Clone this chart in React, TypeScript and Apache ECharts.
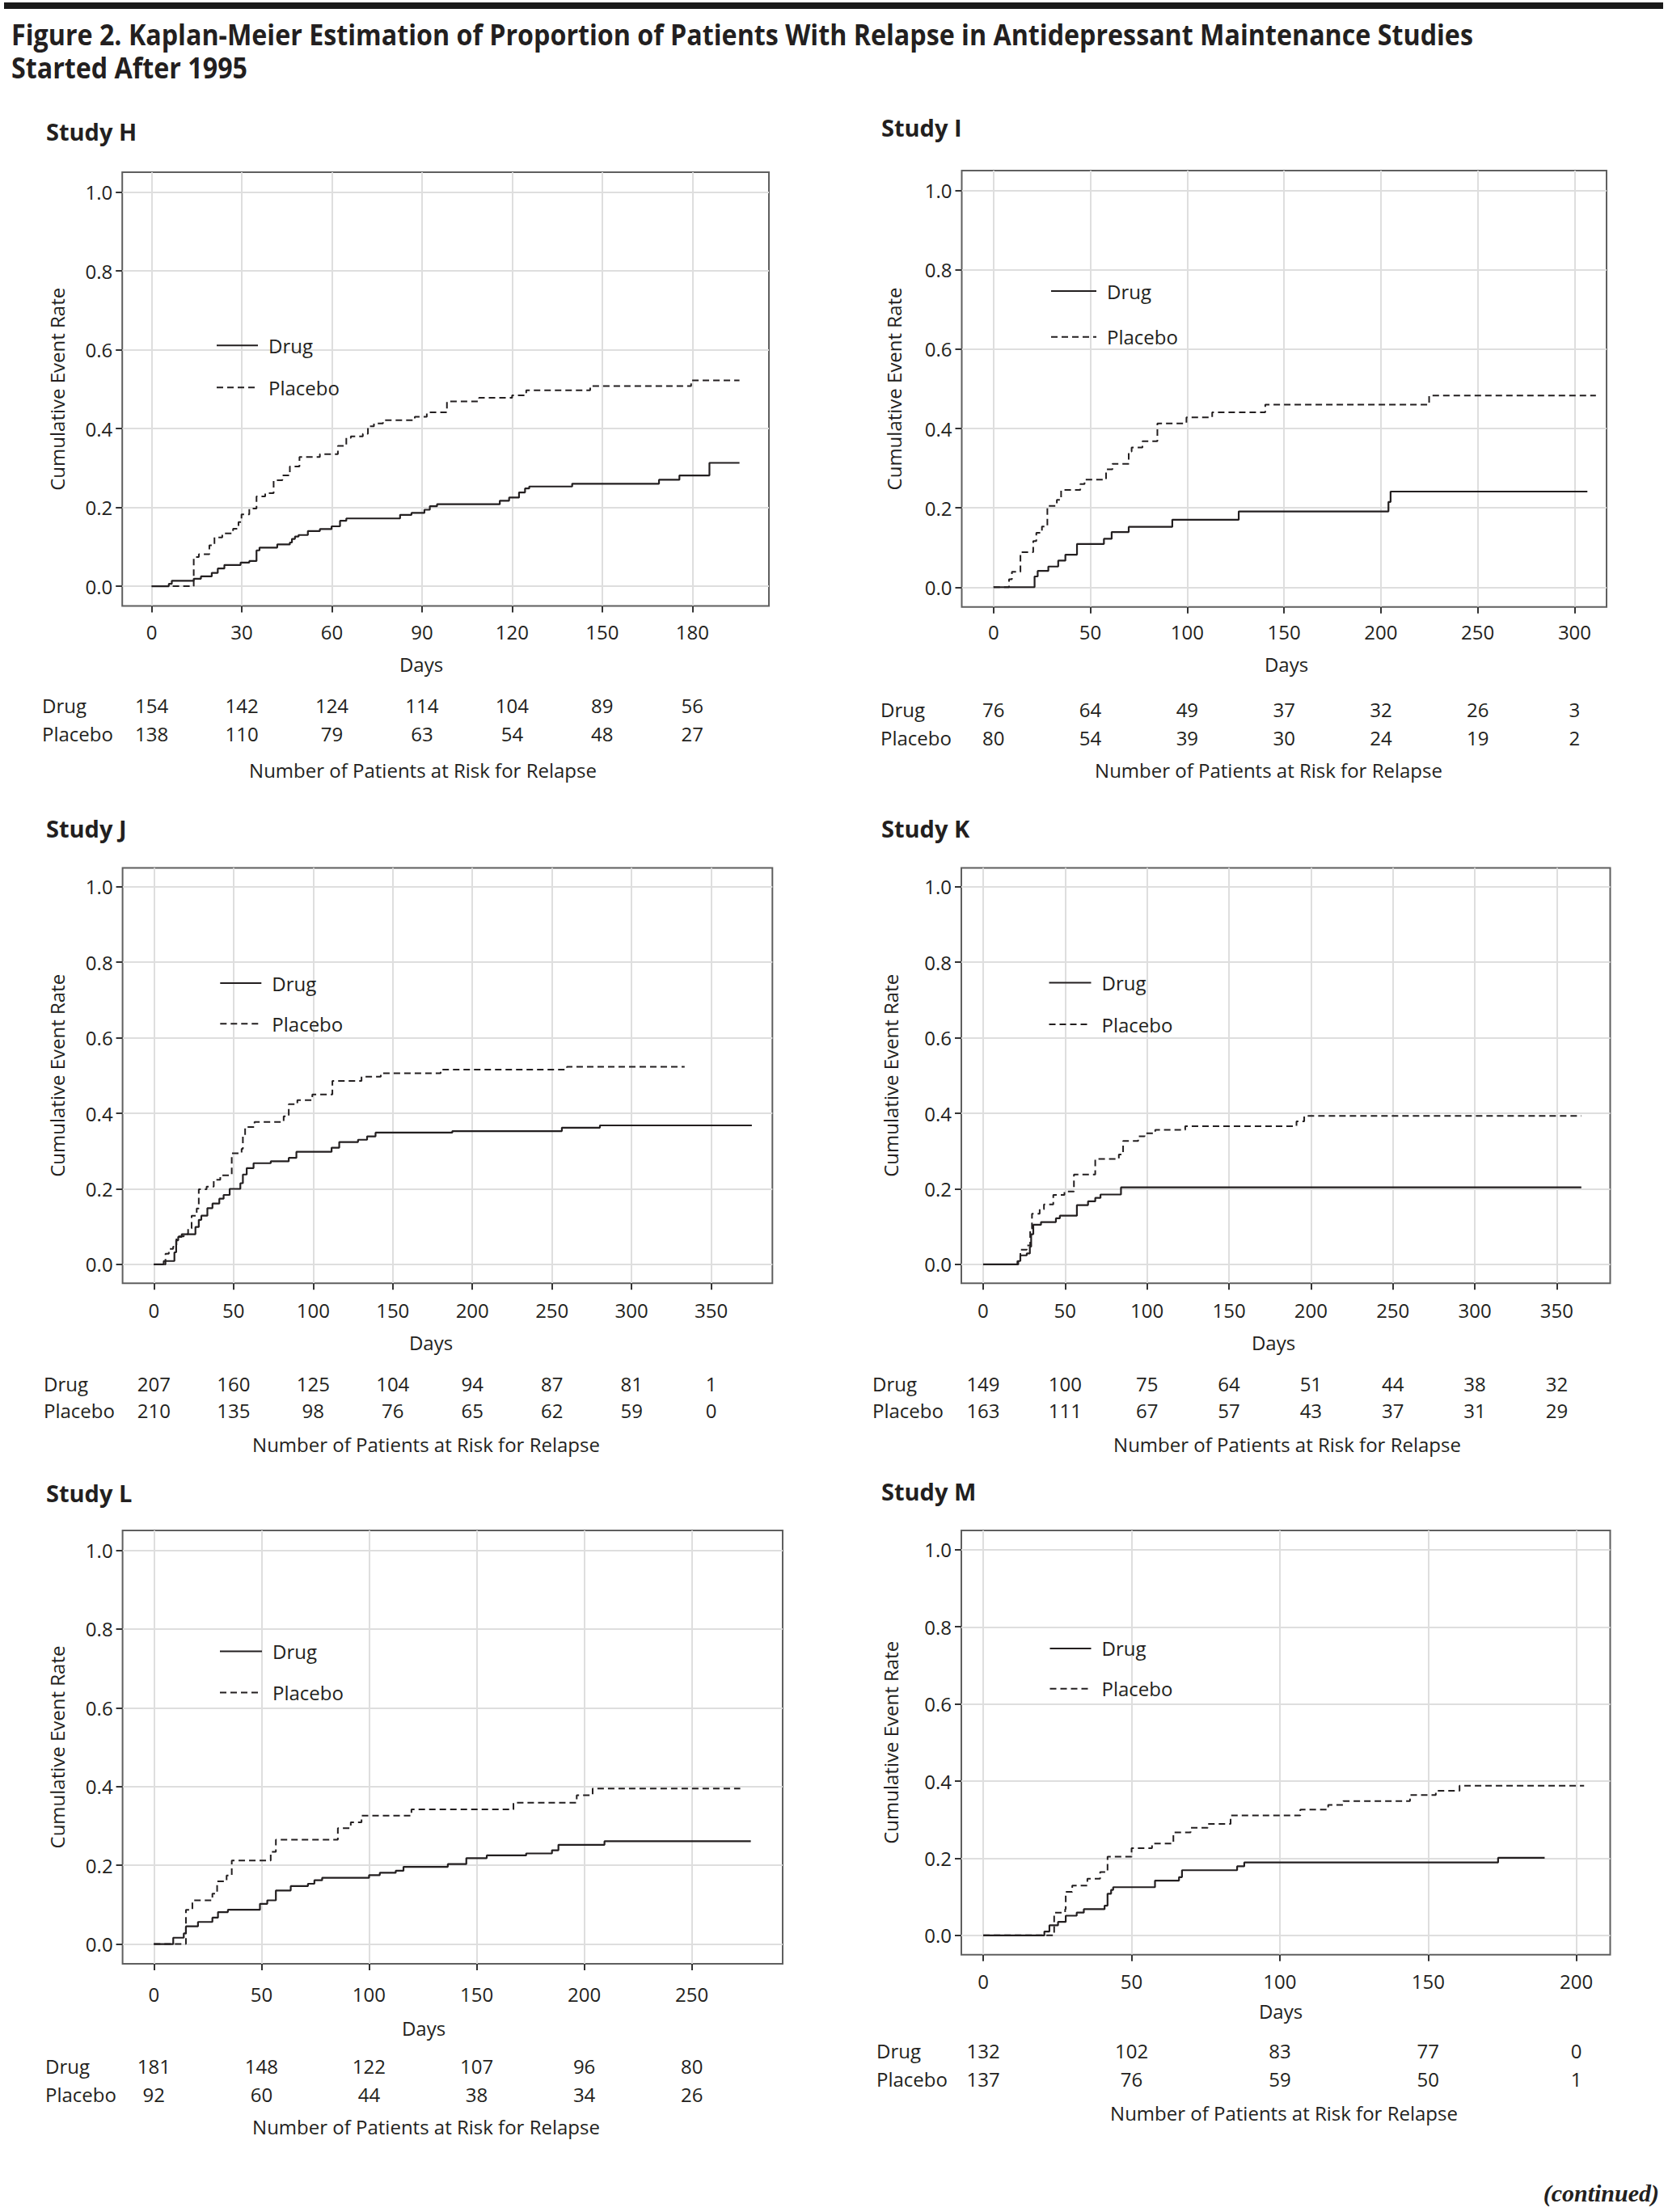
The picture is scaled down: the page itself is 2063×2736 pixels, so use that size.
import React, { useEffect, useRef } from "react";
import * as echarts from "echarts";

const INK = "#231f20";
const FRAME = "#5f5f5f";
const GRIDC = "#dedede";
const FONT = "'Open Sans', 'Noto Sans', sans-serif";

const titleLine1 =
  "Figure 2. Kaplan-Meier Estimation of Proportion of Patients With Relapse in Antidepressant Maintenance Studies";
const titleLine2 = "Started After 1995";
const yAxisTitle = "Cumulative Event Rate";
const xAxisTitle = "Days";
const riskCaption = "Number of Patients at Risk for Relapse";
const armNames = ["Drug", "Placebo"];
const rateTicks = [0, 0.2, 0.4, 0.6, 0.8, 1.0];

// ---------- Study H ----------
const studyHDays = [0, 30, 60, 90, 120, 150, 180];
const studyHDrugAtRisk = [154, 142, 124, 114, 104, 89, 56];
const studyHPlaceboAtRisk = [138, 110, 79, 63, 54, 48, 27];
const studyHDrug = [
  [0, 0], [5.7, 0.006], [6.7, 0.014], [14, 0.019], [16.4, 0.025], [20, 0.034], [22, 0.045],
  [24.2, 0.054], [29.6, 0.06], [32.5, 0.064], [34.9, 0.091], [35.9, 0.098], [41.8, 0.106],
  [46, 0.111], [46.7, 0.12], [47.7, 0.126], [48.9, 0.13], [52, 0.14], [56, 0.145], [59.9, 0.152],
  [62.7, 0.166], [64.8, 0.172], [82.7, 0.181], [86.5, 0.186], [90.8, 0.194], [92.6, 0.203],
  [95, 0.208], [115.9, 0.217], [119, 0.225], [122.3, 0.238], [124.3, 0.248], [125.7, 0.253],
  [140, 0.26], [168.9, 0.27], [175.7, 0.281], [185.7, 0.313], [195.7, 0.313],
];
const studyHPlacebo = [
  [0, 0], [14, 0.074], [15.7, 0.081], [19.2, 0.104], [20.9, 0.124], [23.5, 0.134], [27.1, 0.146],
  [28.9, 0.163], [29.9, 0.182], [32.5, 0.197], [34.9, 0.228], [37.8, 0.236], [40.6, 0.269],
  [43.5, 0.281], [46, 0.304], [49.2, 0.328], [56, 0.335], [62, 0.356], [64.8, 0.376], [66.3, 0.38],
  [70.3, 0.387], [72, 0.406], [74, 0.413], [77, 0.421], [87.6, 0.43], [91.6, 0.441], [98.3, 0.469],
  [109, 0.478], [120, 0.484], [124.7, 0.497], [146, 0.508], [179.6, 0.522], [195.7, 0.522],
];

// ---------- Study I ----------
const studyIDays = [0, 50, 100, 150, 200, 250, 300];
const studyIDrugAtRisk = [76, 64, 49, 37, 32, 26, 3];
const studyIPlaceboAtRisk = [80, 54, 39, 30, 24, 19, 2];
const studyIDrug = [
  [0, 0], [21.2, 0.027], [22.8, 0.041], [28.3, 0.052], [33.4, 0.067], [37.1, 0.082], [43.1, 0.109],
  [57, 0.122], [61, 0.139], [69.8, 0.152], [92.3, 0.17], [126.6, 0.191], [203.9, 0.215],
  [205, 0.241], [306.6, 0.241],
];
const studyIPlacebo = [
  [0, 0], [8, 0.02], [9.5, 0.039], [13.9, 0.088], [20.5, 0.116], [22.1, 0.137], [25, 0.153],
  [27.8, 0.205], [32.7, 0.22], [34.9, 0.245], [44.8, 0.26], [47, 0.271], [58.1, 0.297],
  [61.4, 0.311], [69.8, 0.342], [71.3, 0.352], [76.9, 0.368], [84.6, 0.413], [99.6, 0.428],
  [112.9, 0.441], [140.3, 0.46], [224.9, 0.483], [311, 0.483],
];

// ---------- Study J ----------
const studyJDays = [0, 50, 100, 150, 200, 250, 300, 350];
const studyJDrugAtRisk = [207, 160, 125, 104, 94, 87, 81, 1];
const studyJPlaceboAtRisk = [210, 135, 98, 76, 65, 62, 59, 0];
const studyJDrug = [
  [0, 0], [6.2, 0.009], [12.9, 0.032], [14, 0.064], [15.3, 0.073], [17.5, 0.08], [26.1, 0.099],
  [28.2, 0.118], [29.8, 0.129], [33.6, 0.149], [36.8, 0.161], [41.1, 0.174], [43.8, 0.184],
  [47.6, 0.2], [54.3, 0.215], [55.9, 0.238], [58.3, 0.255], [62.6, 0.268], [73.4, 0.273],
  [84.7, 0.282], [89.5, 0.298], [111.6, 0.309], [116.4, 0.324], [128.2, 0.33], [133.9, 0.339],
  [139.2, 0.349], [187.4, 0.353], [256.2, 0.362], [280.1, 0.368], [375.5, 0.368],
];
const studyJPlacebo = [
  [0, 0], [7.3, 0.028], [9.4, 0.041], [12.1, 0.047], [14.2, 0.074], [18.8, 0.08], [21.5, 0.095],
  [23.7, 0.129], [26.9, 0.148], [28.2, 0.199], [33.1, 0.206], [37.6, 0.224], [41.7, 0.236],
  [48.9, 0.294], [55.1, 0.306], [55.9, 0.339], [57.3, 0.364], [63.2, 0.377], [81.5, 0.392],
  [84.7, 0.424], [90.1, 0.435], [99.5, 0.45], [112.1, 0.486], [130.4, 0.497], [142.5, 0.506],
  [180.1, 0.516], [259.4, 0.523], [333.3, 0.523],
];

// ---------- Study K ----------
const studyKDays = [0, 50, 100, 150, 200, 250, 300, 350];
const studyKDrugAtRisk = [149, 100, 75, 64, 51, 44, 38, 32];
const studyKPlaceboAtRisk = [163, 111, 67, 57, 43, 37, 31, 29];
const studyKDrug = [
  [0, 0], [21.4, 0.009], [22.7, 0.024], [26.6, 0.029], [28.5, 0.047], [29.3, 0.08], [30.6, 0.105],
  [35.3, 0.112], [44.4, 0.122], [46.8, 0.129], [57.2, 0.157], [64, 0.167], [68.4, 0.176],
  [71.6, 0.185], [84.1, 0.204], [365, 0.204],
];
const studyKPlacebo = [
  [0, 0], [20.9, 0.009], [22.7, 0.039], [26.6, 0.05], [28.7, 0.095], [29.8, 0.134], [34.5, 0.146],
  [37.1, 0.159], [42.8, 0.184], [49.6, 0.193], [55.4, 0.238], [68.4, 0.279], [82.8, 0.291],
  [85.4, 0.327], [94.6, 0.339], [98.5, 0.347], [105, 0.356], [123.3, 0.366], [191.2, 0.379],
  [195.9, 0.393], [365, 0.393],
];

// ---------- Study L ----------
const studyLDays = [0, 50, 100, 150, 200, 250];
const studyLDrugAtRisk = [181, 148, 122, 107, 96, 80];
const studyLPlaceboAtRisk = [92, 60, 44, 38, 34, 26];
const studyLDrug = [
  [0, 0], [9, 0.016], [13.9, 0.027], [14.9, 0.045], [20.5, 0.056], [27.2, 0.067], [29.8, 0.081],
  [34.4, 0.087], [49.3, 0.102], [52.7, 0.111], [56.7, 0.136], [63.6, 0.147], [71.6, 0.153],
  [74.6, 0.162], [78.2, 0.168], [100, 0.175], [105, 0.181], [112.4, 0.186], [116, 0.196],
  [136.6, 0.203], [145.2, 0.218], [154.7, 0.225], [173, 0.23], [185, 0.238], [188, 0.252],
  [209.4, 0.261], [277.4, 0.261],
];
const studyLPlacebo = [
  [0, 0], [14.9, 0.087], [17.9, 0.111], [27.2, 0.128], [29.4, 0.159], [33.8, 0.174], [36.2, 0.212],
  [54.3, 0.234], [56.7, 0.265], [85.5, 0.294], [91.5, 0.309], [96.5, 0.326], [119.7, 0.342],
  [167.1, 0.359], [196.5, 0.378], [203.9, 0.395], [272.5, 0.395],
];

// ---------- Study M ----------
const studyMDays = [0, 50, 100, 150, 200];
const studyMDrugAtRisk = [132, 102, 83, 77, 0];
const studyMPlaceboAtRisk = [137, 76, 59, 50, 1];
const studyMDrug = [
  [0, 0], [20.6, 0.01], [22.3, 0.026], [25.2, 0.035], [27.8, 0.051], [31.5, 0.059], [33.9, 0.068],
  [40.9, 0.077], [41.9, 0.108], [43.1, 0.118], [43.8, 0.125], [57.9, 0.142], [66, 0.151],
  [67, 0.169], [85.6, 0.179], [88, 0.189], [173.6, 0.201], [189.3, 0.201],
];
const studyMPlacebo = [
  [0, 0], [23.9, 0.059], [27.6, 0.068], [27.8, 0.113], [30, 0.129], [35.1, 0.147], [39.4, 0.164],
  [41.9, 0.204], [50, 0.226], [56.9, 0.238], [64.1, 0.267], [69.9, 0.279], [75.7, 0.289],
  [83.4, 0.311], [106.9, 0.326], [116.3, 0.338], [121.4, 0.348], [143.9, 0.364], [152.6, 0.375],
  [160.6, 0.388], [202.6, 0.388],
];

const studies = [
  { label: "Study H", days: studyHDays, drug: studyHDrug, placebo: studyHPlacebo, drugRisk: studyHDrugAtRisk, placeboRisk: studyHPlaceboAtRisk },
  { label: "Study I", days: studyIDays, drug: studyIDrug, placebo: studyIPlacebo, drugRisk: studyIDrugAtRisk, placeboRisk: studyIPlaceboAtRisk },
  { label: "Study J", days: studyJDays, drug: studyJDrug, placebo: studyJPlacebo, drugRisk: studyJDrugAtRisk, placeboRisk: studyJPlaceboAtRisk },
  { label: "Study K", days: studyKDays, drug: studyKDrug, placebo: studyKPlacebo, drugRisk: studyKDrugAtRisk, placeboRisk: studyKPlaceboAtRisk },
  { label: "Study L", days: studyLDays, drug: studyLDrug, placebo: studyLPlacebo, drugRisk: studyLDrugAtRisk, placeboRisk: studyLPlaceboAtRisk },
  { label: "Study M", days: studyMDays, drug: studyMDrug, placebo: studyMPlacebo, drugRisk: studyMDrugAtRisk, placeboRisk: studyMPlaceboAtRisk },
];

// Layout (pixel positions) for each panel
const layouts = [
  { left: 151.2, top: 213.1, width: 799.8, height: 536.4, xMin: -9.8, xMax: 205.5, tickMargin: 20, dOff: 111, pOff: 146,
    labelX: 57, labelY: 162.6, yNameX: 70, daysX: 521, daysY: 821.6, rowX: 52, rowY: [872.3, 907.3], capX: 523, capY: 952.7,
    legLeft: 267, legTop: 415.3, legGap: 28, legW: 51 },
  { left: 1189.5, top: 211.1, width: 797.5, height: 539.7, xMin: -16.4, xMax: 316.5, tickMargin: 19, dOff: 115, pOff: 150,
    labelX: 1090, labelY: 157.3, yNameX: 1105, daysX: 1591, daysY: 821.6, rowX: 1089, rowY: [877.6, 912.5], capX: 1569, capY: 952.7,
    legLeft: 1299, legTop: 348, legGap: 32.7, legW: 56 },
  { left: 151.6, top: 1073.4, width: 803.7, height: 513.9, xMin: -19.65, xMax: 388.4, tickMargin: 21, dOff: 112, pOff: 145,
    labelX: 57, labelY: 1024.4, yNameX: 70, daysX: 533, daysY: 1660.7, rowX: 54, rowY: [1711.4, 1744.6], capX: 527, capY: 1786.6,
    legLeft: 271.3, legTop: 1204, legGap: 26.2, legW: 51 },
  { left: 1189, top: 1073.4, width: 802.5, height: 513.9, xMin: -13.3, xMax: 382.6, tickMargin: 21, dOff: 112, pOff: 145,
    labelX: 1090, labelY: 1024.4, yNameX: 1101, daysX: 1575, daysY: 1660.7, rowX: 1079, rowY: [1711.4, 1744.6], capX: 1592, capY: 1786.6,
    legLeft: 1296.5, legTop: 1203.4, legGap: 27.6, legW: 52 },
  { left: 151.6, top: 1893.1, width: 816.4, height: 535.8, xMin: -14.54, xMax: 292.2, tickMargin: 25.6, dOff: 115, pOff: 150,
    labelX: 57, labelY: 1846, yNameX: 70, daysX: 524, daysY: 2508.6, rowX: 56, rowY: [2555.7, 2590.7], capX: 527, capY: 2630.9,
    legLeft: 271, legTop: 2030.5, legGap: 27.1, legW: 52 },
  { left: 1189, top: 1893, width: 802.5, height: 524.7, xMin: -7.4, xMax: 211.4, tickMargin: 21, dOff: 107, pOff: 142,
    labelX: 1090, labelY: 1844.3, yNameX: 1101, daysX: 1584, daysY: 2487.6, rowX: 1084, rowY: [2536.5, 2571.5], capX: 1588, capY: 2613.4,
    legLeft: 1297.5, legTop: 2026.9, legGap: 25.8, legW: 51 },
];

function measureText(text: string, font: string): number {
  const c = document.createElement("canvas").getContext("2d");
  if (!c) return 0;
  c.font = font;
  return c.measureText(text).width;
}

export default function App() {
  const ref = useRef<HTMLDivElement>(null);

  useEffect(() => {
    if (!ref.current) return;
    const chart = echarts.init(ref.current, undefined, { renderer: "svg" });

    const grids: any[] = [];
    const xAxes: any[] = [];
    const yAxes: any[] = [];
    const series: any[] = [];
    const legends: any[] = [];
    const graphics: any[] = [];

    const txt = { fontSize: 24, fontFamily: FONT, color: INK };

    studies.forEach((s, i) => {
      const L = layouts[i];
      grids.push({
        left: L.left, top: L.top, width: L.width, height: L.height,
        show: true, borderColor: FRAME, borderWidth: 2, backgroundColor: "transparent",
      });
      xAxes.push({
        type: "value", gridIndex: i, min: L.xMin, max: L.xMax, position: "bottom",
        axisLine: { show: false, onZero: false },
        axisTick: { show: true, customValues: s.days, length: 8, lineStyle: { color: "#333", width: 2 } },
        axisLabel: { customValues: s.days, margin: L.tickMargin, ...txt },
        splitLine: { show: true, lineStyle: { color: GRIDC, width: 2 } },
      });
      const riskAxis = (vals: number[], offset: number) => ({
        type: "value", gridIndex: i, min: L.xMin, max: L.xMax, position: "bottom", offset,
        axisLine: { show: false, onZero: false },
        axisTick: { show: false },
        splitLine: { show: false },
        axisLabel: {
          customValues: s.days, margin: 0, ...txt,
          formatter: (v: number) => {
            const k = s.days.indexOf(v);
            return k < 0 ? "" : String(vals[k]);
          },
        },
      });
      xAxes.push(riskAxis(s.drugRisk, L.dOff));
      xAxes.push(riskAxis(s.placeboRisk, L.pOff));
      yAxes.push({
        type: "value", gridIndex: i, min: -0.05, max: 1.05,
        axisLine: { show: false, onZero: false },
        axisTick: { show: true, customValues: rateTicks, length: 8, lineStyle: { color: "#333", width: 2 } },
        axisLabel: { customValues: rateTicks, margin: 12, formatter: (v: number) => v.toFixed(1), ...txt },
        splitLine: { show: true, lineStyle: { color: GRIDC, width: 2 } },
      });
      series.push({
        type: "line", name: armNames[0], xAxisIndex: 3 * i, yAxisIndex: i, data: s.drug,
        step: "end", symbol: "none", showSymbol: false, silent: true, z: 4,
        lineStyle: { color: INK, width: 2.2, type: "solid" }, itemStyle: { color: INK },
      });
      series.push({
        type: "line", name: armNames[1], xAxisIndex: 3 * i, yAxisIndex: i, data: s.placebo,
        step: "end", symbol: "none", showSymbol: false, silent: true, z: 3,
        lineStyle: { color: INK, width: 2, type: [8, 5] }, itemStyle: { color: INK },
      });
      legends.push({
        show: true, orient: "vertical", left: L.legLeft, top: L.legTop, padding: 0,
        itemWidth: L.legW, itemHeight: 14, itemGap: L.legGap, selectedMode: false,
        data: armNames,
        itemStyle: { opacity: 0 },
        lineStyle: { opacity: 1 },
        textStyle: { ...txt, padding: [0, 0, 0, 8] },
      });

      graphics.push({
        type: "text", x: L.labelX, y: L.labelY,
        style: { text: s.label, fontSize: 29, fontWeight: "bold", fontFamily: FONT, fill: INK, verticalAlign: "middle" },
      });
      graphics.push({
        type: "text", x: L.yNameX, y: L.top + L.height / 2, rotation: Math.PI / 2,
        style: { text: yAxisTitle, fontSize: 24, fontFamily: FONT, fill: INK, align: "center", verticalAlign: "middle" },
      });
      graphics.push({
        type: "text", x: L.daysX, y: L.daysY,
        style: { text: xAxisTitle, fontSize: 24, fontFamily: FONT, fill: INK, align: "center", verticalAlign: "middle" },
      });
      armNames.forEach((nm, r) => {
        graphics.push({
          type: "text", x: L.rowX, y: L.rowY[r],
          style: { text: nm, fontSize: 24, fontFamily: FONT, fill: INK, align: "left", verticalAlign: "middle" },
        });
      });
      graphics.push({
        type: "text", x: L.capX, y: L.capY,
        style: { text: riskCaption, fontSize: 24, fontFamily: FONT, fill: INK, align: "center", verticalAlign: "middle" },
      });
    });

    // Title
    const titleFont = "bold 36px 'Open Sans'";
    const w1 = measureText(titleLine1, titleFont) || 2100;
    const sx = Math.min(1, 1809 / w1);
    graphics.push({ type: "rect", shape: { x: 5, y: 3, width: 2052, height: 8 }, style: { fill: "#1a1a1a" } });
    graphics.push({
      type: "text", x: 14, y: 42, scaleX: sx,
      style: { text: titleLine1, fontSize: 36, fontWeight: "bold", fontFamily: FONT, fill: INK, verticalAlign: "middle" },
    });
    graphics.push({
      type: "text", x: 14, y: 83, scaleX: sx,
      style: { text: titleLine2, fontSize: 36, fontWeight: "bold", fontFamily: FONT, fill: INK, verticalAlign: "middle" },
    });
    graphics.push({
      type: "text", x: 2052, y: 2712,
      style: {
        text: "(continued)", fontSize: 30, fontWeight: "bold", fontStyle: "italic",
        fontFamily: "'Liberation Serif', 'DejaVu Serif', serif", fill: INK, align: "right", verticalAlign: "middle",
      },
    });

    chart.setOption({
      animation: false,
      backgroundColor: "#ffffff",
      grid: grids,
      xAxis: xAxes,
      yAxis: yAxes,
      series,
      legend: legends,
      graphic: { elements: graphics },
    });

    return () => chart.dispose();
  }, []);

  return (
    <div
      ref={ref}
      style={{ position: "absolute", left: 0, top: 0, width: 2063, height: 2736, background: "#fff" }}
    />
  );
}
